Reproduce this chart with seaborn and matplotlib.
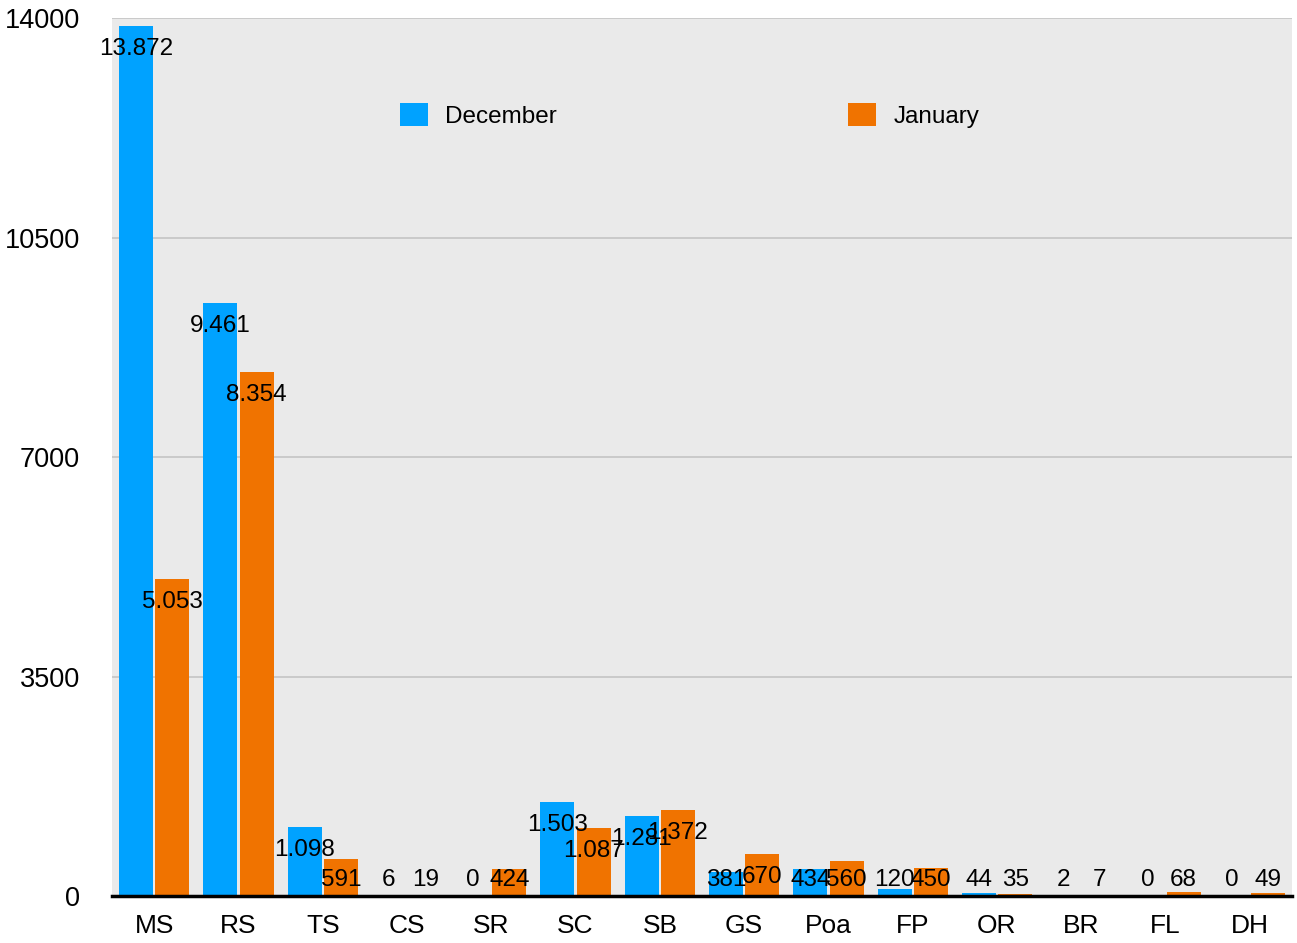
import pandas as pd
import matplotlib.pyplot as plt
import seaborn as sns

categories = ['MS', 'RS', 'TS', 'CS', 'SR', 'SC', 'SB', 'GS', 'Poa', 'FP', 'OR', 'BR', 'FL', 'DH']
december = [13872, 9461, 1098, 6, 0, 1503, 1281, 381, 434, 120, 44, 2, 0, 0]
january = [5053, 8354, 591, 19, 424, 1087, 1372, 670, 560, 450, 35, 7, 68, 49]
months = ['December', 'January']
colors = ['#00a2ff', '#f07300']

df = pd.DataFrame({
    'Category': categories * 2,
    'Month': [months[0]] * len(categories) + [months[1]] * len(categories),
    'Value': december + january,
})

sns.set_style('whitegrid')
plt.rcParams['font.family'] = ['Liberation Sans', 'DejaVu Sans']
plt.rcParams['text.color'] = 'black'
plt.rcParams['xtick.color'] = 'black'
plt.rcParams['ytick.color'] = 'black'

fig, ax = plt.subplots(figsize=(12.97, 9.43), dpi=100)
fig.subplots_adjust(left=0.0864, right=0.9961, top=0.9809, bottom=0.0498)

sns.barplot(data=df, x='Category', y='Value', hue='Month', order=categories,
            hue_order=months, palette=colors, width=0.86, gap=0.06,
            saturation=1, linewidth=0, ax=ax)

ax.set_facecolor('#eaeaea')
ax.set_ylim(0, 14000)
ax.set_xlim(-0.5, 13.5)
ax.set_yticks([0, 3500, 7000, 10500, 14000])
ax.set_xlabel('')
ax.set_ylabel('')
ax.grid(axis='y', color='#c4c4c4', linewidth=1.2)
ax.grid(axis='x', visible=False)
ax.set_axisbelow(True)
for side in ['top', 'right', 'left']:
    ax.spines[side].set_visible(False)
ax.spines['bottom'].set_color('black')
ax.spines['bottom'].set_linewidth(2.5)
ax.spines['bottom'].set_zorder(5)
ax.tick_params(axis='y', length=0, pad=23, labelsize=19.5)
ax.tick_params(axis='x', length=0, pad=13, labelsize=19)

# value labels just under the bar top, kept above the axis for short bars
for cont in ax.containers:
    for p in cont:
        h = p.get_height()
        y = max(h - 365, 255)
        txt = f"{int(round(h)):,}".replace(',', '.')
        ax.text(p.get_x() + p.get_width() / 2, y, txt, ha='center', va='center',
                fontsize=17.5, color='black', zorder=6)

ax.legend(loc='center left', bbox_to_anchor=(0.244, 0.889), ncol=2, frameon=False,
          fontsize=17.5, borderpad=0, borderaxespad=0, handlelength=1.15,
          handleheight=1.1, handletextpad=0.7, columnspacing=12.0)

plt.savefig('out.png', dpi=100)
